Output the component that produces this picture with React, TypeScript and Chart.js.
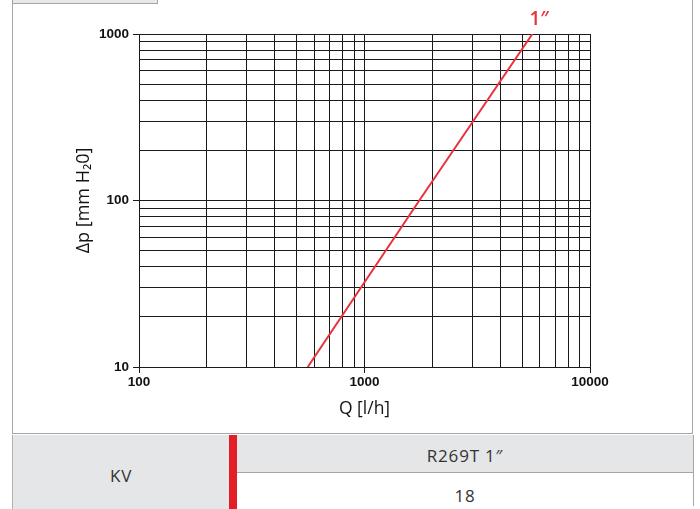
import { useEffect, useRef } from 'react';
import Chart from 'chart.js/auto';

// flow rate Q [l/h] vs pressure drop Δp [mm H2O] for the 1" valve
const flowRates = [560, 1750, 5550];
const pressureDrops = [10, 100, 1000];
const seriesLabel = '1″';

const xTickLabels = [100, 1000, 10000];
const yTickLabels = [10, 100, 1000];

const xTitle = 'Q [l/h]';
const yTitle = 'Δp [mm H₂0]';

const kvLabel = 'KV';
const kvModel = 'R269T 1″';
const kvValue = '18';

const LINE_RED = '#e8323c';
const GRID = '#1a1a1a';
const TICK_FONT = { family: "'Liberation Sans', Arial, sans-serif", size: 13.5, weight: 'bold' as const };
const TITLE_FONT = "'Open Sans', 'Noto Sans', sans-serif";

// grid lines at 1..9 x 10^n inside [min, max]
function decadeGrid(min: number, max: number): { value: number }[] {
  const out: { value: number }[] = [];
  for (let p = Math.round(Math.log10(min)); p <= Math.round(Math.log10(max)); p += 1) {
    for (let d = 1; d <= 9; d += 1) {
      const v = d * Math.pow(10, p);
      if (v >= min && v <= max) out.push({ value: v });
    }
  }
  return out;
}

const seriesLabelPlugin = {
  id: 'seriesLabel',
  afterDatasetsDraw(chart: Chart) {
    const meta = chart.getDatasetMeta(0);
    const last = meta.data[meta.data.length - 1];
    if (!last) return;
    const { ctx } = chart;
    ctx.save();
    ctx.fillStyle = LINE_RED;
    ctx.font = `600 19px ${TITLE_FONT}`;
    ctx.textAlign = 'center';
    ctx.textBaseline = 'middle';
    ctx.fillText(seriesLabel, last.x + 7, last.y - 14);
    ctx.restore();
  }
};

export default function App() {
  const canvasRef = useRef<HTMLCanvasElement | null>(null);

  useEffect(() => {
    const canvas = canvasRef.current;
    if (!canvas) return;

    const chart = new Chart(canvas, {
      type: 'line',
      data: {
        datasets: [
          {
            label: seriesLabel,
            data: flowRates.map((q, i) => ({ x: q, y: pressureDrops[i] })),
            borderColor: LINE_RED,
            borderWidth: 2,
            pointRadius: 0,
            tension: 0
          }
        ]
      },
      options: {
        responsive: false,
        animation: false,
        layout: { padding: { left: 0, right: 104, top: 34, bottom: 0 } },
        plugins: { legend: { display: false }, tooltip: { enabled: false } },
        scales: {
          x: {
            type: 'logarithmic',
            position: 'bottom',
            min: 100,
            max: 10000,
            afterBuildTicks: scale => {
              scale.ticks = decadeGrid(100, 10000);
            },
            afterFit: scale => {
              scale.height = 67;
            },
            ticks: {
              autoSkip: false,
              maxRotation: 0,
              padding: 1,
              color: '#111',
              font: TICK_FONT,
              callback: value => (xTickLabels.includes(Number(value)) ? String(value) : '')
            },
            grid: {
              color: GRID,
              lineWidth: 1,
              tickLength: 6,
              tickColor: ctx => (xTickLabels.includes(Number(ctx.tick?.value)) ? GRID : 'rgba(0,0,0,0)')
            },
            border: { color: GRID, width: 1 },
            title: {
              display: true,
              text: xTitle,
              color: '#141414',
              font: { family: TITLE_FONT, size: 17.5 },
              padding: { top: 0, bottom: 14 }
            }
          },
          y: {
            type: 'logarithmic',
            min: 10,
            max: 1000,
            afterBuildTicks: scale => {
              scale.ticks = decadeGrid(10, 1000);
            },
            afterFit: scale => {
              scale.width = 127;
            },
            ticks: {
              autoSkip: false,
              padding: 4,
              color: '#111',
              font: TICK_FONT,
              callback: value => (yTickLabels.includes(Number(value)) ? String(value) : '')
            },
            grid: {
              color: GRID,
              lineWidth: 1,
              tickLength: 6,
              tickColor: ctx => (yTickLabels.includes(Number(ctx.tick?.value)) ? GRID : 'rgba(0,0,0,0)')
            },
            border: { color: GRID, width: 1 },
            title: {
              display: true,
              text: yTitle,
              color: '#141414',
              font: { family: TITLE_FONT, size: 18 },
              padding: { top: 61, bottom: 0 }
            }
          }
        }
      },
      plugins: [seriesLabelPlugin]
    });

    return () => chart.destroy();
  }, []);

  const cellText = {
    fontFamily: TITLE_FONT,
    fontSize: 17,
    letterSpacing: 0.8,
    color: '#333',
    display: 'flex',
    alignItems: 'center',
    justifyContent: 'center',
    position: 'absolute' as const
  };

  return (
    <div style={{ position: 'fixed', left: 0, top: 0, width: 700, height: 509, background: '#fff', overflow: 'hidden' }}>
      {/* chart frame */}
      <div style={{ position: 'absolute', left: 12, top: -2, width: 681, height: 436, border: '1px solid #a6a6a6', boxSizing: 'border-box' }} />
      <div style={{ position: 'absolute', left: 12, top: -10, width: 146, height: 14, border: '1px solid #a6a6a6', background: '#e8e8e9', boxSizing: 'border-box' }} />
      <canvas ref={canvasRef} width={682} height={434} style={{ position: 'absolute', left: 12, top: 0, width: 682, height: 434 }} />

      {/* Kv table */}
      <div style={{ ...cellText, left: 12, top: 435, width: 217, height: 80, background: '#e5e6e8', borderLeft: '1px solid #b0b0b0', boxSizing: 'border-box' }}>
        <span>{kvLabel}</span>
      </div>
      <div style={{ position: 'absolute', left: 229, top: 435, width: 8, height: 80, background: '#e31e26' }} />
      <div style={{ ...cellText, left: 237, top: 435, width: 457, height: 38, background: '#e5e6e8', borderBottom: '1px solid #a6a6a6', borderRight: '1px solid #a6a6a6', boxSizing: 'border-box', paddingTop: 4 }}>
        {kvModel}
      </div>
      <div style={{ ...cellText, left: 237, top: 473, width: 457, height: 33, background: '#fff', borderRight: '1px solid #a6a6a6', boxSizing: 'border-box', paddingTop: 12 }}>
        {kvValue}
      </div>
    </div>
  );
}
